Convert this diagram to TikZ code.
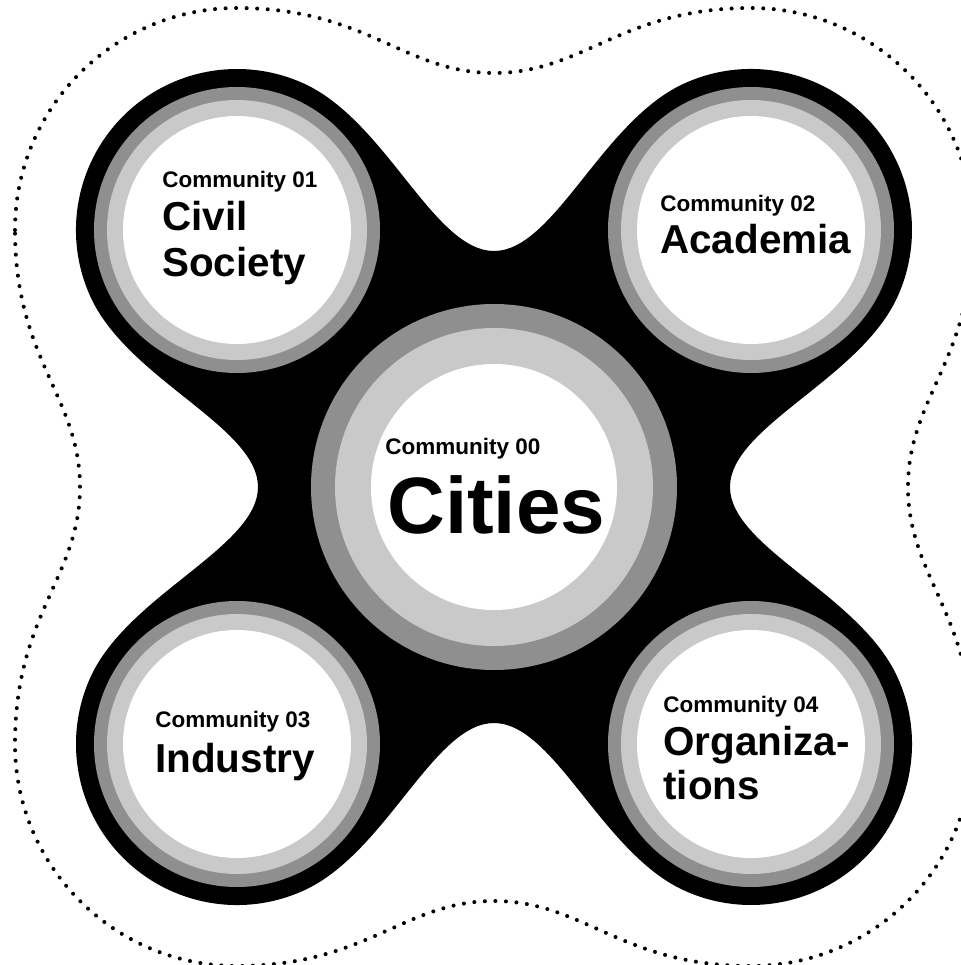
\documentclass[tikz,border=0pt]{standalone}
\usepackage{fontspec}
\setmainfont{Liberation Sans}
\usetikzlibrary{calc}

\definecolor{ringdark}{gray}{0.56}
\definecolor{ringlight}{gray}{0.79}

\tikzset{
	comm/.style={font=\bfseries\fontsize{12.8}{15}\selectfont, anchor=base west, inner sep=0pt},
	field/.style={font=\bfseries\fontsize{23}{26}\selectfont, anchor=base west, inner sep=0pt},
	hub/.style={font=\bfseries\fontsize{45.5}{50}\selectfont, anchor=base west, inner sep=0pt},
	dots/.style={line width=2.3pt, dash pattern=on 0pt off 6pt, line cap=round},
}

\begin{document}
\begin{tikzpicture}[x=0.02cm,y=0.02cm]
	\clip (-494,-478) rectangle (467,487);
	\fill[white] (-494,-478) rectangle (467,487);

	% Centres
	\coordinate (o) at (0,0);
	\coordinate (c1) at (-257,257);
	\coordinate (c2) at (257,257);
	\coordinate (c3) at (-257,-257);
	\coordinate (c4) at (257,-257);

	% Dotted outline
	\draw[dots] (-479,257) arc[start angle=180, end angle=90, radius=222]
		.. controls (-127,479) and (-90,414) .. (0,414)
		.. controls (90,414) and (127,479) .. (257,479)
		arc[start angle=90, end angle=0, radius=222]
		.. controls (479,127) and (414,90) .. (414,0)
		.. controls (414,-90) and (479,-127) .. (479,-257)
		arc[start angle=0, end angle=-90, radius=222]
		.. controls (127,-479) and (90,-414) .. (0,-414)
		.. controls (-90,-414) and (-127,-479) .. (-257,-479)
		arc[start angle=-90, end angle=-180, radius=222]
		.. controls (-479,-127) and (-414,-90) .. (-414,0)
		.. controls (-414,90) and (-479,127) .. (-479,257) -- cycle;

	% Black body
	\fill[black] ($(c1)+(65:161)$)
		.. controls (-107.4,364.8) and (-60,236) .. (0,236)
		.. controls (60,236) and (107.4,364.8) .. ($(c2)+(115:161)$)
		arc[start angle=115, end angle=-25, radius=161]
		.. controls (364.8,107.4) and (236,60) .. (236,0)
		.. controls (236,-60) and (364.8,-107.4) .. ($(c4)+(25:161)$)
		arc[start angle=25, end angle=-115, radius=161]
		.. controls (107.4,-364.8) and (60,-236) .. (0,-236)
		.. controls (-60,-236) and (-107.4,-364.8) .. ($(c3)+(-65:161)$)
		arc[start angle=-65, end angle=-205, radius=161]
		.. controls (-364.8,-107.4) and (-236,-60) .. (-236,0)
		.. controls (-236,60) and (-364.8,107.4) .. ($(c1)+(205:161)$)
		arc[start angle=205, end angle=65, radius=161] -- cycle;

	% Rings
	\fill[ringdark] (o) circle[radius=183];
	\fill[ringlight] (o) circle[radius=159];
	\fill[white] (o) circle[radius=123];
	\foreach \c in {c1,c2,c3,c4} {
		\fill[ringdark] (\c) circle[radius=143];
		\fill[ringlight] (\c) circle[radius=130];
		\fill[white] (\c) circle[radius=114];
	}

	% Labels
	\node[comm] (l0) at (-109,33) {Community 00};
	\node[hub] (n0) at (-107,-46) {Cities};

	\node[comm] (l1) at (-332,300) {Community 01};
	\node[field] (n1a) at (-332,257) {Civil};
	\node[field] (n1b) at (-332,211) {Society};

	\node[comm] (l2) at (166,276) {Community 02};
	\node[field] (n2) at (166,234) {Academia};

	\node[comm] (l3) at (-339,-240) {Community 03};
	\node[field] (n3) at (-339,-285) {Industry};

	\node[comm] (l4) at (169,-225) {Community 04};
	\node[field] (n4a) at (169,-268) {Organiza-};
	\node[field] (n4b) at (169,-312) {tions};
\end{tikzpicture}
\end{document}
